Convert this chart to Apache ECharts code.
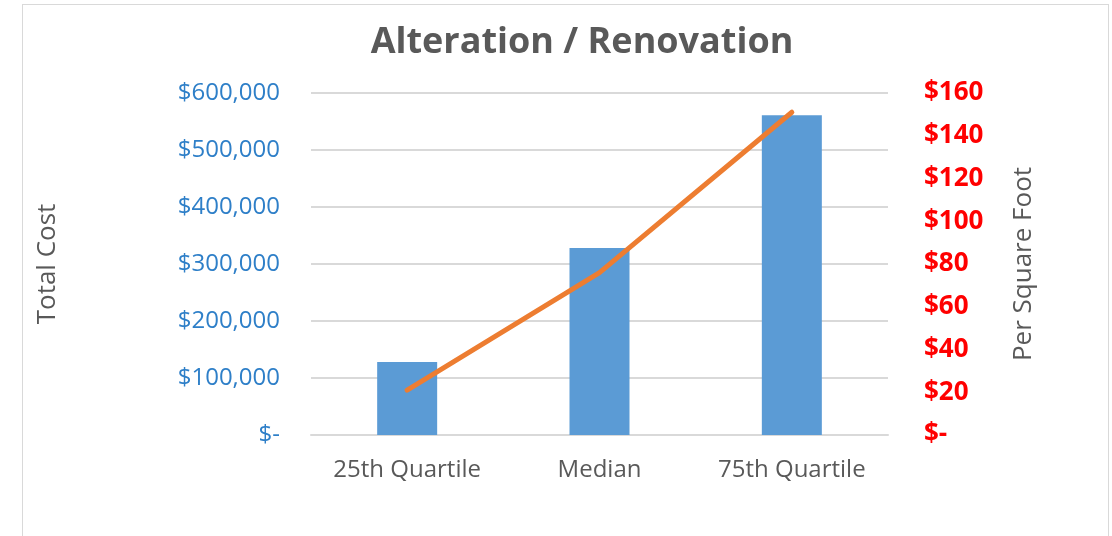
<!DOCTYPE html>
<html><head><meta charset="utf-8">
<script src="https://cdn.jsdelivr.net/npm/echarts@6/dist/echarts.min.js"></script>
<style>html,body{margin:0;padding:0;background:#fff}#c{width:1112px;height:536px}
#frame{position:absolute;left:22px;top:4px;width:1085px;height:531px;border:1px solid #d9d9d9;pointer-events:none}</style>
</head><body><div id="c"></div><div id="frame"></div>
<script>
const categories = ['25th Quartile', 'Median', '75th Quartile'];
const totalCost = [128000, 328000, 561000];
const perSquareFoot = [21, 76, 151];

const fmtCost = v => v === 0 ? '$-' : '$' + v.toLocaleString('en-US');
const fmtSq = v => v === 0 ? '$-' : '$' + v;
const font = '"Open Sans", "Liberation Sans", sans-serif';

const chart = echarts.init(document.getElementById('c'));
chart.setOption({
  animation: false,
  title: { text: 'Alteration / Renovation', left: 577, top: 20, textAlign: 'center',
    textStyle: { fontFamily: font, fontSize: 36, fontWeight: 'bold', color: '#595959' } },
  grid: { left: 311, right: 224, top: 93, bottom: 101 },
  xAxis: { type: 'category', data: categories,
    axisLine: { lineStyle: { color: '#d9d9d9', width: 2 } }, axisTick: { show: false },
    axisLabel: { fontFamily: font, fontSize: 24, color: '#595959', margin: 23 } },
  yAxis: [
    { type: 'value', min: 0, max: 600000, interval: 100000, name: 'Total Cost', nameLocation: 'middle', nameGap: 250,
      nameTextStyle: { fontFamily: font, fontSize: 26, color: '#595959' },
      axisLabel: { formatter: fmtCost, fontFamily: font, fontSize: 24, color: '#2E7FC8', margin: 31 },
      splitLine: { lineStyle: { color: '#d9d9d9', width: 2 } } },
    { type: 'value', min: 0, max: 160, interval: 20, name: 'Per Square Foot', nameLocation: 'middle', nameGap: 123,
      nameRotate: 90,
      nameTextStyle: { fontFamily: font, fontSize: 26, color: '#595959' },
      axisLabel: { formatter: fmtSq, fontFamily: font, fontSize: 26, fontWeight: 'bold', color: '#ff0000', margin: 36 },
      splitLine: { show: false } }
  ],
  series: [
    { type: 'bar', data: totalCost, yAxisIndex: 0, barWidth: 60, itemStyle: { color: '#5B9BD5' } },
    { type: 'line', data: perSquareFoot, yAxisIndex: 1, symbol: 'none', lineStyle: { color: '#ED7D31', width: 5, cap: 'round' } }
  ]
});
</script></body></html>
